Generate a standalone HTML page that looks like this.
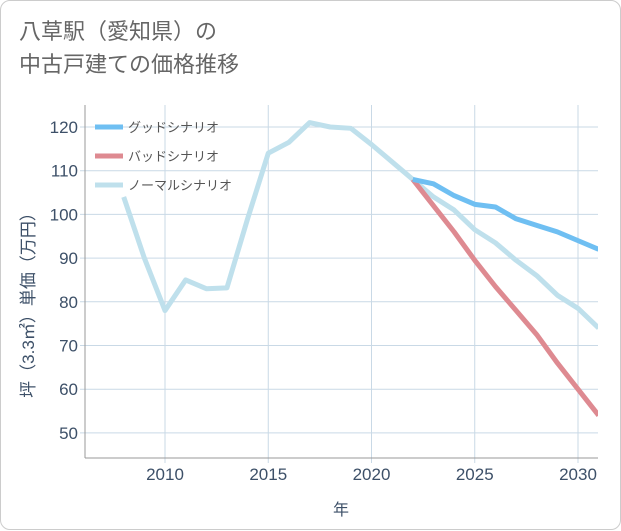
<!DOCTYPE html>
<html><head><meta charset="utf-8"><style>
body{margin:0;background:#fff;font-family:"Liberation Sans","Noto Sans CJK JP",sans-serif;}
#card{position:absolute;left:0;top:0;width:619px;height:528px;border:1px solid #ccc;border-radius:10px;background:#fff;}
#title{position:absolute;left:18px;top:14px;font-size:22px;line-height:33px;color:#666;}
</style></head><body>
<div id="card">
<div id="title">八草駅（愛知県）の<br>中古戸建ての価格推移</div>
<svg id="chart" width="621" height="530" style="position:absolute;left:0;top:0"></svg>
</div>
<script>
const years=[2008,2009,2010,2011,2012,2013,2014,2015,2016,2017,2018,2019,2020,2021,2022,2023,2024,2025,2026,2027,2028,2029,2030,2031];
const normalValues=[104,90,78,85,83,83.2,99,114,116.5,121,120,119.7,116,112,108,104,101,96.5,93.5,89.5,86,81.5,78.5,74];
const goodYears=[2022,2023,2024,2025,2026,2027,2028,2029,2030,2031];
const goodValues=[108,107,104.3,102.3,101.7,99,97.5,96,94,92];
const badValues=[108,102,96,89.5,83.5,78,72.5,66,60,54];
const yTicks=[50,60,70,80,90,100,110,120];
const xTicks=[2010,2015,2020,2025,2030];
const NS='http://www.w3.org/2000/svg';
const svg=document.getElementById('chart');
const L=84,R=597,T=104,B=457;
const x=v=>164+(v-2010)*20.65;
const y=v=>126+(120-v)*4.37;
const TC='#3d5068';
function mk(t,a){const e=document.createElementNS(NS,t);for(const k in a)e.setAttribute(k,a[k]);svg.appendChild(e);return e;}
const clip=mk('clipPath',{id:'pc'});const cr=document.createElementNS(NS,'rect');cr.setAttribute('x',L);cr.setAttribute('y',T);cr.setAttribute('width',R-L);cr.setAttribute('height',B-T);clip.appendChild(cr);
yTicks.forEach(v=>{
 const g=mk('line',{x1:L-5,x2:R,y1:y(v),y2:y(v),stroke:'#c9d9e6','stroke-width':1});
 
 
 const t=mk('text',{x:L-7,y:y(v)+6,'text-anchor':'end','font-size':17,fill:TC});t.textContent=v;
 
 
});
xTicks.forEach(v=>{
 const g=mk('line',{x1:x(v),x2:x(v),y1:T,y2:B+5,stroke:'#c9d9e6','stroke-width':1});
 
 
 const t=mk('text',{x:x(v),y:B+22,'text-anchor':'middle','font-size':17,fill:TC});t.textContent=v;
 
 
});
const ax=mk('line',{x1:L,x2:R,y1:B,y2:B,stroke:'#999','stroke-width':1});


const ay=mk('line',{x1:L,x2:L,y1:T,y2:B,stroke:'#999','stroke-width':1});


function line(xs,vs,c,n){const p=mk('polyline',{points:xs.map((yr,i)=>x(yr)+','+y(vs[i])).join(' '),fill:'none',stroke:c,'stroke-width':5,'stroke-linejoin':'round','clip-path':'url(#pc)'});
 
 }
line(years,normalValues,'#bfe0ec','normal-scenario-line');
line(goodYears,badValues,'#de8a91','bad-scenario-line');
line(goodYears,goodValues,'#6fbff2','good-scenario-line');
const leg=[['グッドシナリオ','#6fbff2'],['バッドシナリオ','#de8a91'],['ノーマルシナリオ','#bfe0ec']];
leg.forEach((l,i)=>{const yy=126+i*29;
 const s=mk('line',{x1:94,x2:122,y1:yy,y2:yy,stroke:l[1],'stroke-width':5});
 
 
 const t=mk('text',{x:127,y:yy+5,'font-size':13,fill:'#555'});t.textContent=l[0];
 
 
});
const xt=mk('text',{x:340,y:514,'text-anchor':'middle','font-size':16,fill:TC});xt.textContent='年';


const yt=mk('text',{x:0,y:0,'text-anchor':'middle','font-size':17,fill:TC,transform:'translate(33,300) rotate(-90)'});yt.textContent='坪（3.3㎡）単価（万円）';


</script>
</body></html>
